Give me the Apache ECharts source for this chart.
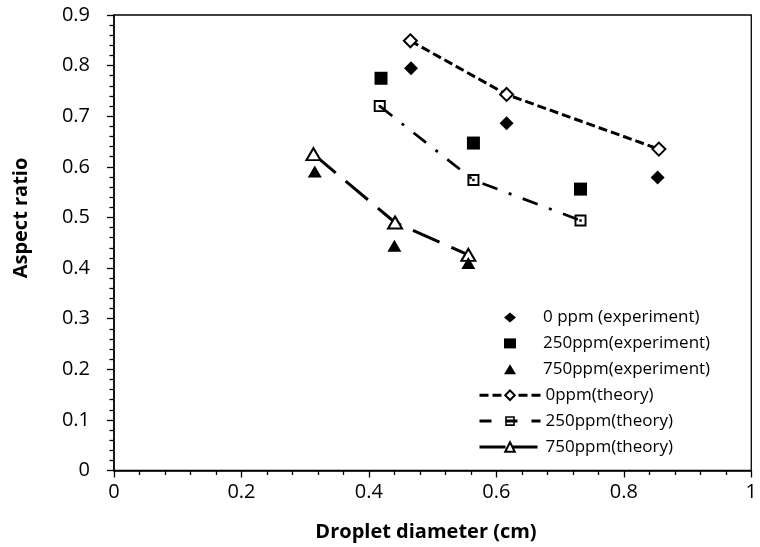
<!DOCTYPE html>
<html>
<head>
<meta charset="utf-8">
<script src="https://cdn.jsdelivr.net/npm/echarts@6/dist/echarts.min.js"></script>
<style>html,body{margin:0;padding:0;background:#fff;}#c{width:760px;height:547px;}</style>
</head>
<body>
<div id="c"></div>
<script>
// Data
var seriesNames = ['0 ppm (experiment)', '250ppm(experiment)', '750ppm(experiment)', '0ppm(theory)', '250ppm(theory)', '750ppm(theory)'];
var exp0 = [[0.466, 0.795], [0.616, 0.686], [0.853, 0.579]];
var exp250 = [[0.419, 0.775], [0.564, 0.647], [0.732, 0.556]];
var exp750 = [[0.315, 0.591], [0.440, 0.444], [0.556, 0.410]];
var th0 = [[0.465, 0.849], [0.616, 0.743], [0.855, 0.635]];
var th250 = [[0.417, 0.720], [0.564, 0.574], [0.732, 0.494]];
var th750 = [[0.313, 0.625], [0.441, 0.490], [0.556, 0.426]];
var xTitle = 'Droplet diameter (cm)';
var yTitle = 'Aspect ratio';

var FONT = 'Open Sans';
var squareDot = 'path://M0,0H10V10H0Z M1.6,1.6V8.4H8.4V1.6Z M4,4H6V6H4Z';

var dash0 = [9, 4], dash250 = [16, 12, 3, 12], dash750 = [29, 13];

var chart = echarts.init(document.getElementById('c'), null, {renderer: 'canvas'});
var axisCommon = {
  axisLine: {show: true, onZero: false, lineStyle: {color: '#000', width: 1.5}},
  axisTick: {show: true, inside: false, length: 7, lineStyle: {color: '#000', width: 1.3}},
  minorTick: {show: true, splitNumber: 5, length: 4.5, lineStyle: {color: '#000', width: 1.3}},
  splitLine: {show: false}
};
var fmt = function (v) { return String(Math.round(v * 10) / 10); };
var option = {
  backgroundColor: '#fff',
  animation: false,
  textStyle: {fontFamily: FONT},
  grid: {left: 114, right: 3, top: 15, bottom: 76.5, show: true, borderColor: '#000', borderWidth: 1.3, backgroundColor: 'transparent'},
  xAxis: Object.assign({
    type: 'value', min: 0, max: 1, interval: 0.2,
    axisLabel: {color: '#000', fontSize: 20, fontFamily: FONT, margin: 12, formatter: fmt}
  }, axisCommon),
  yAxis: Object.assign({
    type: 'value', min: 0, max: 0.9, interval: 0.1,
    axisLabel: {color: '#000', fontSize: 20, fontFamily: FONT, margin: 24, formatter: fmt}
  }, axisCommon),
  legend: [
    {
      orient: 'vertical', left: 499, top: 304,
      itemWidth: 12, itemHeight: 10, itemGap: 8.9,
      textStyle: {color: '#000', fontSize: 17, lineHeight: 17, fontFamily: FONT, padding: [0, 0, 0, 22]},
      data: seriesNames.slice(0, 3)
    },
    {
      orient: 'vertical', left: 473, top: 304 + 3 * 25.9,
      itemWidth: 61, itemHeight: 12, itemGap: 8.9,
      textStyle: {color: '#000', fontSize: 17, lineHeight: 17, fontFamily: FONT, padding: [0, 0, 0, 0]},
      lineStyle: {width: 3},
      data: [
        {name: seriesNames[3], lineStyle: {width: 3, type: dash0}},
        {name: seriesNames[4], lineStyle: {width: 3, type: [12, 14]}},
        {name: seriesNames[5], lineStyle: {width: 3, type: [26, 6]}}
      ]
    }
  ],
  graphic: [
    {type: 'text', x: 426, y: 532, style: {text: xTitle, fontSize: 20, fontWeight: 'bold', fontFamily: FONT, fill: '#000', align: 'center', verticalAlign: 'middle'}},
    {type: 'text', x: 21, y: 218, rotation: Math.PI / 2, style: {text: yTitle, fontSize: 20, fontWeight: 'bold', fontFamily: FONT, fill: '#000', align: 'center', verticalAlign: 'middle'}}
  ],
  series: [
    {name: seriesNames[3], type: 'line', data: th0, symbol: 'emptyDiamond', symbolSize: 13, z: 3,
      lineStyle: {color: '#000', width: 3, type: dash0, cap: 'butt'},
      itemStyle: {color: '#000', borderColor: '#000', borderWidth: 1.6, opacity: 1}},
    {name: seriesNames[4], type: 'line', data: th250, symbol: squareDot, symbolSize: 12, z: 3,
      lineStyle: {color: '#000', width: 2.7, type: dash250, cap: 'butt'},
      itemStyle: {color: '#000', opacity: 1}},
    {name: seriesNames[5], type: 'line', data: th750, symbol: 'emptyTriangle', symbolSize: [14, 12], z: 3,
      lineStyle: {color: '#000', width: 3, type: dash750, cap: 'butt'},
      itemStyle: {color: '#000', borderColor: '#000', borderWidth: 1.6, opacity: 1}},
    {name: seriesNames[0], type: 'scatter', data: exp0, symbol: 'diamond', symbolSize: 14, itemStyle: {color: '#000', opacity: 1}, z: 4},
    {name: seriesNames[1], type: 'scatter', data: exp250, symbol: 'rect', symbolSize: 13, itemStyle: {color: '#000', opacity: 1}, z: 4},
    {name: seriesNames[2], type: 'scatter', data: exp750, symbol: 'triangle', symbolSize: [14, 12], itemStyle: {color: '#000', opacity: 1}, z: 4}
  ]
};
chart.setOption(option);
</script>
</body>
</html>
